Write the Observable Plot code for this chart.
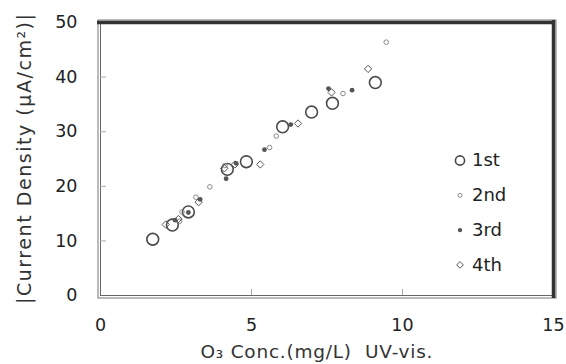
<!DOCTYPE html>
<html><head><meta charset="utf-8">
<script src="https://cdn.jsdelivr.net/npm/d3@7"></script>
<script src="https://cdn.jsdelivr.net/npm/@observablehq/plot@0.6"></script>
<style>body{margin:0;background:#fff;} #chart svg{display:block;}</style>
</head><body><div id="chart"></div>
<script>
const seriesNames = ["1st", "2nd", "3rd", "4th"];
const x1st = [1.73, 2.38, 2.91, 4.20, 4.83, 6.03, 6.99, 7.68, 9.10];
const y1st = [10.3, 12.9, 15.3, 23.1, 24.5, 30.9, 33.6, 35.2, 39.0];
const x2nd = [2.62, 2.70, 3.16, 3.62, 4.12, 5.60, 5.82, 8.03, 9.46];
const y2nd = [13.6, 15.3, 18.0, 19.9, 23.8, 27.1, 29.2, 37.0, 46.4];
const x3rd = [2.47, 2.91, 3.30, 4.16, 4.49, 5.43, 6.30, 7.55, 8.33];
const y3rd = [13.8, 15.2, 17.6, 21.4, 24.2, 26.7, 31.3, 37.9, 37.6];
const x4th = [2.16, 2.58, 3.25, 4.10, 4.45, 5.29, 6.54, 7.65, 8.86];
const y4th = [13.0, 14.0, 17.1, 23.3, 24.0, 24.0, 31.5, 37.2, 41.5];
const xTicks = [0, 5, 10, 15];
const yTicks = [0, 10, 20, 30, 40, 50];
const xInnerTicks = [5, 10];
const yInnerTicks = [10, 20, 30, 40];
const xLabel = "O\u2083 Conc.(mg/L)  UV-vis.";
const yLabel = "|Current Density (\u03bcA/cm\u00b2)|";

const W = 566, H = 364, mL = 100, mR = 13, mT = 22, mB = 69;
const FONT = "DejaVu Sans";
const pts = (xs, ys) => xs.map((x, i) => ({x, y: ys[i]}));
const d1 = pts(x1st, y1st), d2 = pts(x2nd, y2nd), d3s = pts(x3rd, y3rd), d4 = pts(x4th, y4th);

const styles = {
  "1st": {symbol: "circle", r: 5.9, fill: "none", stroke: "#4a4a4a", strokeWidth: 1.6, lr: 4.6},
  "2nd": {symbol: "circle", r: 2.3, fill: "none", stroke: "#8a8a8a", strokeWidth: 1, lr: 2.0},
  "3rd": {symbol: "circle", r: 2.4, fill: "#555", stroke: "none", strokeWidth: 0, lr: 2.2},
  "4th": {symbol: "diamond2", r: 3.3, fill: "none", stroke: "#555", strokeWidth: 1, lr: 3.0}
};
const dataBy = {"1st": d1, "2nd": d2, "3rd": d3s, "4th": d4};
const plotW = W - mL - mR, plotH = H - mT - mB;

const marks = [
  Plot.frame({stroke: "#666", strokeWidth: 1}),
  Plot.frame({stroke: "#777", strokeWidth: 1, inset: -2.5}),
  Plot.tickY(yInnerTicks, {y: d => d, stroke: "#aaa", insetRight: plotW - 6}),
  Plot.tickX(xInnerTicks, {x: d => d, stroke: "#aaa", insetTop: plotH - 6}),
  Plot.ruleY([50], {stroke: "#333", strokeWidth: 3.5, insetLeft: -3, insetRight: -2}),
  Plot.ruleX([15], {stroke: "#333", strokeWidth: 3.5, insetTop: -2, insetBottom: -3}),
  Plot.axisX(xTicks, {tickSize: 0, tickPadding: 23.5, fontSize: 17.5, fill: "#222", label: null}),
  Plot.axisY(yTicks, {tickSize: 0, tickPadding: 23, fontSize: 17.5, fill: "#222", label: null}),
  Plot.text([yLabel], {frameAnchor: "left", textAnchor: "middle", lineAnchor: "middle", rotate: -90, dx: -76, fontSize: 19, fill: "#333", className: "ylab"}),
  Plot.text([xLabel], {frameAnchor: "bottom", textAnchor: "middle", lineAnchor: "middle", dx: -10.5, dy: 57, fontSize: 18.5, fill: "#333", className: "xlab"})
];
for (const s of seriesNames) {
  const st = styles[s];
  marks.push(Plot.dot(dataBy[s], {x: "x", y: "y", symbol: st.symbol, r: st.r, fill: st.fill, stroke: st.stroke, strokeWidth: st.strokeWidth}));
}
seriesNames.forEach((s, i) => {
  const st = styles[s];
  const dy = 138 + i * 34.8;
  marks.push(Plot.dot([s], {frameAnchor: "top-left", dx: 359.5, dy, symbol: st.symbol, r: st.lr, fill: st.fill, stroke: st.stroke, strokeWidth: st.strokeWidth}));
  marks.push(Plot.text([s], {frameAnchor: "top-left", dx: 371.5, dy, text: d => d, textAnchor: "start", lineAnchor: "middle", fontSize: 18, fill: "#222"}));
});

const chart = Plot.plot({
  width: W, height: H,
  marginLeft: mL, marginRight: mR, marginTop: mT, marginBottom: mB,
  style: {fontFamily: FONT, background: "#fff", overflow: "visible"},
  x: {domain: [0, 15]},
  y: {domain: [0, 50]},
  marks
});
chart.querySelectorAll(".ylab text").forEach(t => { t.setAttribute("textLength", 290); t.setAttribute("lengthAdjust", "spacing"); });
chart.querySelectorAll(".xlab text").forEach(t => { t.setAttribute("textLength", 232); t.setAttribute("lengthAdjust", "spacing"); });
document.getElementById("chart").appendChild(chart);
</script>
</body></html>
